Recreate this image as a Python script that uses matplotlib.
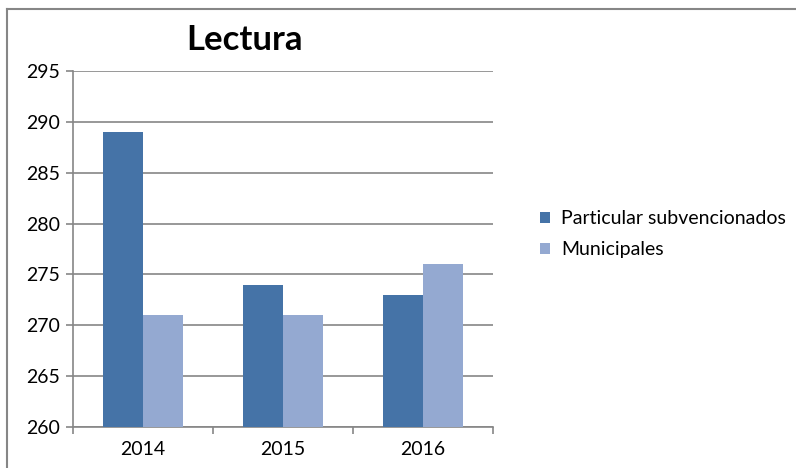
import matplotlib.pyplot as plt
import numpy as np
from matplotlib.lines import Line2D

# Data
years = ["2014", "2015", "2016"]
particular = [289, 274, 273]
municipales = [271, 271, 276]
series_names = ["Particular subvencionados", "Municipales"]
y_ticks = [260, 265, 270, 275, 280, 285, 290, 295]

DARK_BLUE = "#4573A7"
LIGHT_BLUE = "#94A9D1"
GRID = "#868686"
FONT = ["Lato", "DejaVu Sans"]

W, H = 796, 468
fig = plt.figure(figsize=(W / 100, H / 100), dpi=100)
plt.rcParams["font.family"] = FONT

ax = fig.add_axes([73 / W, 1 - 427 / H, (493 - 73) / W, (427 - 71) / H])

x = np.arange(len(years))
bar_w = 40 / 140
ax.bar(x - bar_w / 2, particular, width=bar_w, color=DARK_BLUE,
       label=series_names[0], zorder=3)
ax.bar(x + bar_w / 2, municipales, width=bar_w, color=LIGHT_BLUE,
       label=series_names[1], zorder=3)

ax.set_xlim(-0.5, len(years) - 0.5)
ax.set_ylim(260, 295)
ax.set_yticks(y_ticks)
ax.set_yticklabels([str(v) for v in y_ticks], fontsize=14)
ax.yaxis.grid(True, color=GRID, linewidth=1.2, zorder=0)
ax.tick_params(axis="y", length=5, width=1.2, color=GRID, pad=4)

# category labels at centers, tick marks at boundaries
ax.set_xticks(x)
ax.set_xticklabels(years, fontsize=14)
ax.set_xticks(np.arange(len(years) + 1) - 0.5, minor=True)
ax.tick_params(axis="x", which="major", length=0, pad=10)
ax.tick_params(axis="x", which="minor", length=5, width=1.2, color=GRID)

for side in ["top", "right"]:
    ax.spines[side].set_visible(False)
for side in ["left", "bottom"]:
    ax.spines[side].set_color(GRID)
    ax.spines[side].set_linewidth(1.2)

fig.text(245 / W, 1 - 40 / H, "Lectura", fontsize=25, fontweight="bold",
         ha="center", va="center")

ax.legend(loc="center left", bbox_to_anchor=(532 / W, 1 - 234 / H),
          bbox_transform=fig.transFigure, frameon=False, fontsize=14,
          handlelength=0.5, handleheight=0.5, handletextpad=0.6,
          labelspacing=0.72, borderaxespad=0)

# outer chart border
fig.add_artist(Line2D([7.5 / W, 7.5 / W], [0, 1 - 9 / H], transform=fig.transFigure,
                      color=GRID, linewidth=1.5))
fig.add_artist(Line2D([7.5 / W, 1], [1 - 9 / H, 1 - 9 / H], transform=fig.transFigure,
                      color=GRID, linewidth=1.5))

fig.savefig("out.png", dpi=100, facecolor="white")
